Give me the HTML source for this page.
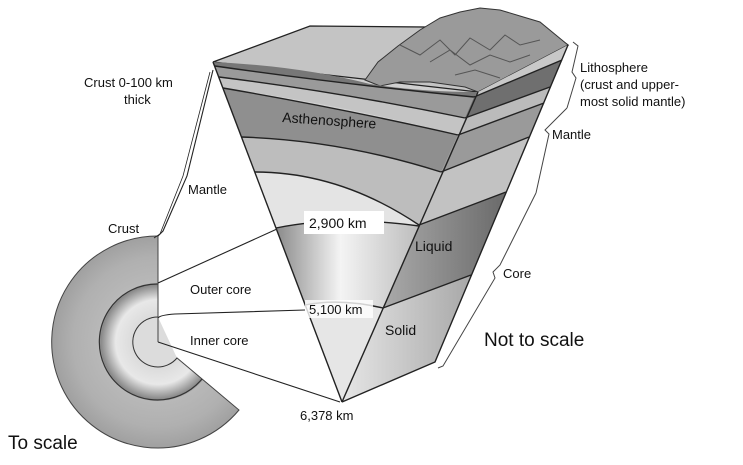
<!DOCTYPE html>
<html><head><meta charset="utf-8"><style>
html,body{margin:0;padding:0;background:#fff;}
svg{display:block;font-family:"Liberation Sans",Arial,sans-serif;}
</style></head><body>
<svg width="743" height="465" viewBox="0 0 743 465" xmlns="http://www.w3.org/2000/svg">
<defs>
<linearGradient id="oc" x1="0" x2="1" y1="0" y2="0">
<stop offset="0" stop-color="#8a8a8a"/><stop offset="0.45" stop-color="#f4f4f4"/><stop offset="1" stop-color="#bdbdbd"/></linearGradient>
<linearGradient id="liq" x1="0" x2="1"><stop offset="0" stop-color="#aaa"/><stop offset="1" stop-color="#6a6a6a"/></linearGradient>
<linearGradient id="sol" x1="0" x2="1"><stop offset="0" stop-color="#e6e6e6"/><stop offset="1" stop-color="#a8a8a8"/></linearGradient>
<radialGradient id="disc" cx="158" cy="342" r="106" gradientUnits="userSpaceOnUse">
<stop offset="0.2" stop-color="#d8d8d8"/><stop offset="0.4" stop-color="#e8e8e8"/><stop offset="0.54" stop-color="#888"/><stop offset="0.56" stop-color="#b8b8b8"/><stop offset="0.8" stop-color="#b0b0b0"/><stop offset="1" stop-color="#a0a0a0"/></radialGradient>
</defs>

<!-- Left disc -->
<path d="M158,342 L158,236 A106,106 0 1 0 239,410 Z" fill="url(#disc)" stroke="#444" stroke-width="1"/>
<path d="M158,284 A58,58 0 1 0 202,379" fill="none" stroke="#333" stroke-width="1.2"/>
<path d="M158,317 A25,25 0 1 0 177,358" fill="#dcdcdc" stroke="#333" stroke-width="1"/>
<line x1="158" y1="236" x2="158" y2="342" stroke="#444"/>

<polygon points="213,62 310,26 478,92 342,402" fill="#d0d0d0"/>
<!-- top face -->
<polygon points="213,62 310,26 545,28 568,45 478,92" fill="#c4c4c4" stroke="#222" stroke-width="1.3"/>
<!-- mountains -->
<path d="M365,80 L378,62 L398,46 L420,30 L440,18 L460,12 L480,8 L500,10 L520,16 L540,22 L568,45 L478,92 L465,87 L430,82 L400,82 L380,86 Z" fill="#9a9a9a" stroke="#333" stroke-width="1"/>
<path d="M400,45 L420,55 L440,40 L455,55 L470,38 L490,50 L505,35 L520,45 L540,40 M430,62 L450,50 L470,65 L490,55 L510,62 L530,55 M455,75 L475,70 L500,78" fill="none" stroke="#555" stroke-width="1"/>

<!-- left face layers -->
<path d="M213,62 Q300,66 370,84 Q420,92 478,92 L474,97 Q340,84 215,66 Z" fill="#777"/>
<path d="M215,66 Q340,84 474,97 L465,118 Q340,92 219,77 Z" fill="#9a9a9a"/>
<path d="M219,77 Q340,92 465,118 L458,135 Q340,104 223,88 Z" fill="#c4c4c4"/>
<path d="M223,88 Q340,108 458,135 L441,172 Q340,140 241,137 Z" fill="#8f8f8f"/>
<path d="M241,137 Q340,140 441,172 L419,225 Q340,172 255,172 Z" fill="#bdbdbd"/>
<path d="M255,172 Q340,172 419,225 L419,226 Q340,215 276,228 Z" fill="#e4e4e4"/>
<path d="M276,228 Q340,215 419,226 L383,308 Q340,298 305,305 Z" fill="url(#oc)"/>
<path d="M305,305 Q340,298 383,308 L342,402 Z" fill="#e6e6e6"/>
<g fill="none" stroke="#222" stroke-width="1.4">
<path d="M215,66 Q340,84 474,97"/>
<path d="M219,77 Q340,92 465,118"/>
<path d="M223,88 Q340,108 458,135"/>
<path d="M241,137 Q340,140 441,172"/>
<path d="M255,172 Q340,172 419,225"/>
<path d="M276,228 Q340,215 419,226"/>
<path d="M305,305 Q340,298 383,308"/>
</g>

<!-- right face -->
<polygon points="478,92 568,45 435,362 342,402" fill="#c8c8c8"/>
<polygon points="474,97 562,60 550,87 465,118" fill="#6f6f6f"/>
<polygon points="465,118 550,87 544,103 458,135" fill="#bbb"/>
<polygon points="458,135 544,103 529,137 441,172" fill="#9a9a9a"/>
<polygon points="441,172 529,137 506,192 419,225" fill="#c2c2c2"/>
<polygon points="419,225 506,192 471,275 383,308" fill="url(#liq)"/>
<polygon points="383,308 471,275 435,362 342,402" fill="url(#sol)"/>
<g stroke="#222" stroke-width="1.4" fill="none">
<line x1="474" y1="97" x2="562" y2="60"/>
<line x1="465" y1="118" x2="550" y2="87"/>
<line x1="458" y1="135" x2="544" y2="103"/>
<line x1="441" y1="172" x2="529" y2="137"/>
<line x1="419" y1="225" x2="506" y2="192"/>
<line x1="383" y1="308" x2="471" y2="275"/>
<polyline points="568,45 435,362 342,402"/>
<line x1="478" y1="92" x2="342" y2="402"/>
<line x1="213" y1="62" x2="342" y2="402"/>
</g>

<!-- braces along right edge -->
<g stroke="#444" stroke-width="1" fill="none">
<path d="M573,42 L578,46 L572,72 L576,78 L567,108"/>
<path d="M567,108 L545,130 L549,134 L536,193"/>
<path d="M536,193 L500,265 L493,272 L495,278 L443,366 L438,368"/>
</g>

<!-- connector lines -->
<g stroke="#222" stroke-width="1.1" fill="none">
<path d="M158,236 L163,231 L187,176 L213,70"/>
<path d="M154,238 L160,234 L183,176 L210,72" stroke-width="0.8"/>
<line x1="158" y1="283" x2="277" y2="229"/>
<path d="M158,318 Q160,315 175,314 L305,310"/>
<line x1="158" y1="342" x2="340" y2="402"/>
</g>

<!-- labels -->
<rect x="304" y="211" width="80" height="23" fill="#fff"/>
<rect x="305" y="300" width="68" height="18" fill="#fff" opacity="0.8"/>
<g font-size="13" fill="#111">
<text x="84" y="87">Crust 0-100 km</text>
<text x="124" y="104">thick</text>
<text x="108" y="233">Crust</text>
<text x="188" y="194">Mantle</text>
<text x="190" y="294">Outer core</text>
<text x="190" y="345">Inner core</text>
<text x="309" y="228" font-size="14">2,900 km</text>
<text x="309" y="314" font-size="13">5,100 km</text>
<text x="300" y="420">6,378 km</text>
<text x="415" y="251" font-size="14">Liquid</text>
<text x="385" y="335" font-size="14">Solid</text>
<text x="503" y="278">Core</text>
<text x="552" y="139">Mantle</text>
<text x="580" y="72">Lithosphere</text>
<text x="580" y="89">(crust and upper-</text>
<text x="580" y="106">most solid mantle)</text>
<text x="282" y="122" font-size="14" transform="rotate(4 282 122)">Asthenosphere</text>
</g>
<text x="484" y="346" font-size="19" fill="#111">Not to scale</text>
<text x="8" y="449" font-size="19" fill="#111">To scale</text>
</svg>
</body></html>
